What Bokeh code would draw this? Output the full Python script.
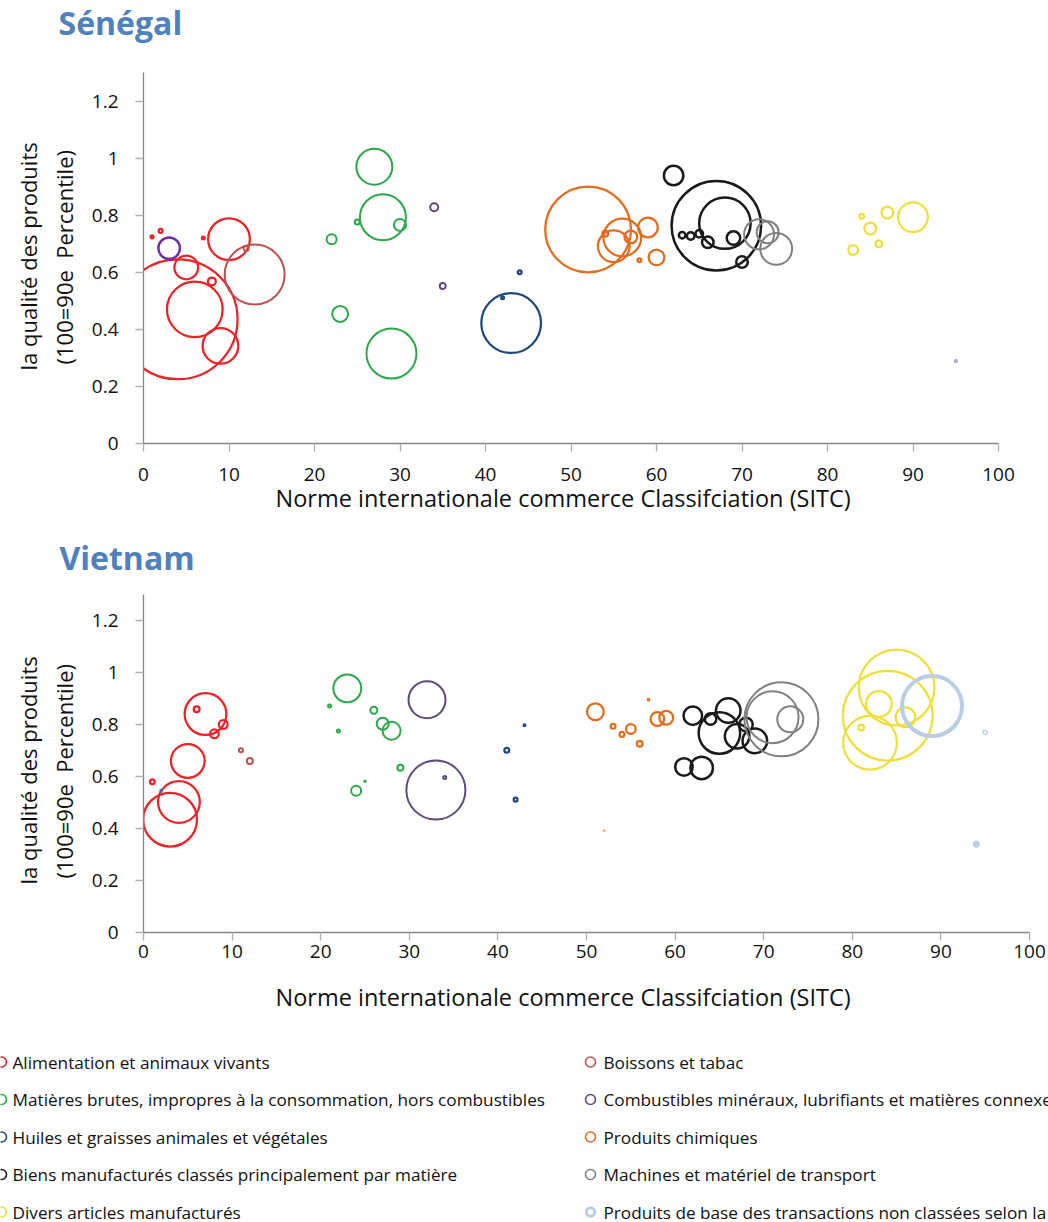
import math
from bokeh.plotting import figure
from bokeh.models import Range1d, ColumnDataSource, FixedTicker, Title
from bokeh.core.properties import value
from bokeh.embed import file_html
from bokeh.resources import INLINE

categories = [
    "Alimentation et animaux vivants",
    "Boissons et tabac",
    "Matières brutes, impropres à la consommation, hors combustibles",
    "Combustibles minéraux, lubrifiants et matières connexes",
    "Huiles et graisses animales et végétales",
    "Produits chimiques",
    "Biens manufacturés classés principalement par matière",
    "Machines et matériel de transport",
    "Divers articles manufacturés",
    "Produits de base des transactions non classées selon la CTCI",
]

x_ticks = [0, 10, 20, 30, 40, 50, 60, 70, 80, 90, 100]
y_ticks = [0, 0.2, 0.4, 0.6, 0.8, 1, 1.2]
y_tick_labels = ["0", "0.2", "0.4", "0.6", "0.8", "1", "1.2"]

x_title = "Norme internationale commerce Classifciation (SITC)"
y_title_1 = "la qualité des produits"
y_title_2 = "(100=90e\u00a0 Percentile)"

# ---------------- Sénégal ----------------
sn_code = [1, 2, 4, 5, 6, 7, 8, 9, 10,
           12, 13,
           22, 23, 25, 27, 28, 29, 30,
           34, 35,
           42, 43, 44,
           52, 54, 55, 56, 57, 58, 59, 60,
           62, 63, 64, 65, 66, 67, 68, 69, 70,
           72, 73, 74,
           83, 84, 85, 86, 87, 90,
           3, 95]
sn_quality = [0.724, 0.745, 0.435, 0.617, 0.470, 0.720, 0.568, 0.342, 0.716,
              0.683, 0.592,
              0.716, 0.454, 0.776, 0.970, 0.793, 0.315, 0.766,
              0.828, 0.552,
              0.511, 0.422, 0.600,
              0.750, 0.735, 0.691, 0.722, 0.724, 0.642, 0.757, 0.652,
              0.939, 0.730, 0.727, 0.735, 0.705, 0.763, 0.772, 0.720, 0.636,
              0.733, 0.740, 0.682,
              0.678, 0.796, 0.753, 0.700, 0.809, 0.793,
              0.684, 0.289]
sn_weight = [1.6, 2.3, 930, 42, 210, 1.6, 6.3, 90, 121,
             3.1, 240,
             9, 20, 3.1, 90, 144, 169, 12.3,
             6.3, 4,
             1.6, 240, 2.3,
             484, 4, 72, 100, 14, 2.3, 30, 20,
             30, 5.1, 6.3, 6.3, 12.3, 529, 182, 16, 12.3,
             64, 36, 72,
             9, 3.1, 12.3, 5.1, 12.3, 64,
             36, 1]
sn_group = [0, 0, 0, 0, 0, 0, 0, 0, 0,
            1, 1,
            2, 2, 2, 2, 2, 2, 2,
            3, 3,
            4, 4, 4,
            5, 5, 5, 5, 5, 5, 5, 5,
            6, 6, 6, 6, 6, 6, 6, 6, 6,
            7, 7, 7,
            8, 8, 8, 8, 8, 8,
            10, 11]

# ---------------- Vietnam ----------------
vn_code = [1, 3, 4, 5, 6, 7, 8, 9,
           11, 12,
           21, 22, 23, 24, 25, 26, 27, 28, 29,
           32, 33, 34,
           41, 42, 43,
           51, 53, 54, 55, 56, 57, 58, 59,
           61, 62, 63, 64, 65, 66, 67, 68, 69,
           71, 72, 73,
           81, 82, 83, 84, 85, 86,
           89, 94, 95,
           2, 52]
vn_quality = [0.580, 0.434, 0.502, 0.660, 0.859, 0.840, 0.764, 0.800,
              0.701, 0.660,
              0.871, 0.775, 0.939, 0.545, 0.582, 0.855, 0.803, 0.776, 0.634,
              0.895, 0.548, 0.596,
              0.701, 0.511, 0.797,
              0.849, 0.793, 0.762, 0.783, 0.726, 0.896, 0.821, 0.826,
              0.637, 0.834, 0.633, 0.821, 0.767, 0.854, 0.755, 0.800, 0.737,
              0.828, 0.820, 0.820,
              0.788, 0.730, 0.879, 0.834, 0.942, 0.828,
              0.871, 0.339, 0.770,
              0.545, 0.392]
vn_weight = [3.1, 196, 121, 81, 4, 121, 7.6, 7.6,
             2.3, 4,
             1.6, 1.6, 56, 9, 0.6, 5.1, 12.3, 25, 4,
             95, 233, 1.6,
             3.1, 2.3, 1,
             22.6, 3.1, 3.1, 9, 4, 0.6, 16, 16,
             25, 27.6, 39, 12.3, 121, 45.6, 45.6, 16, 45.6,
             182, 361, 49,
             4, 196, 49, 529, 380, 30,
             256, 3.1, 1.6,
             1, 0.6]
vn_group = [0, 0, 0, 0, 0, 0, 0, 0,
            1, 1,
            2, 2, 2, 2, 2, 2, 2, 2, 2,
            3, 3, 3,
            4, 4, 4,
            5, 5, 5, 5, 5, 5, 5, 5,
            6, 6, 6, 6, 6, 6, 6, 6, 6,
            7, 7, 7,
            8, 8, 8, 8, 8, 8,
            9, 9, 9,
            13, 12]

# ---------------- styles ----------------
PALETTE = ["#EC2227", "#C0504D", "#2BA84A", "#604A7B", "#1F497D",
           "#E36C1E", "#1A1A1A", "#808080", "#EEE03A", "#B9CDE5",
           "#7030A0", "#A99BCB", "#F4B183", "#5B5FC7"]
LINE_W = [2.25, 2.0, 2.0, 2.0, 2.25, 2.25, 2.5, 2.0, 2.25, 4.0,
          2.5, 1.5, 1.5, 1.5]
FONT = "Open Sans"
TITLE_COLOR = "#4F81BD"
AXIS_COLOR = "#868686"
TEXT_COLOR = "#111111"


def blank_figure(height):
    f = figure(width=1048, height=height, output_backend="svg", toolbar_location=None,
               x_range=Range1d(0, 1048), y_range=Range1d(height, 0), min_border=0)
    f.axis.visible = False
    f.grid.visible = False
    f.outline_line_color = None
    return f


def header(height, text, x, middle):
    h = blank_figure(height)
    h.text([x], [middle], text=[text], text_font=value(FONT), text_font_size="32px",
           text_font_style="bold", text_color=TITLE_COLOR, text_align="left",
           text_baseline="middle")
    return h


def make_chart(code, quality, weight, group, height, border_right, border_top,
               border_bottom, tick_standoff, xlabel_standoff,
               ylabel_offsets, ylabel_standoffs):
    p = figure(width=1048, height=height, output_backend="svg", toolbar_location=None,
               x_range=Range1d(0, 100), y_range=Range1d(0, 1.3),
               min_border_left=143, min_border_right=border_right,
               min_border_top=border_top, min_border_bottom=border_bottom)
    p.outline_line_color = None
    p.grid.visible = False
    p.background_fill_color = "white"
    p.border_fill_color = "white"

    for ax in (p.xaxis[0], p.yaxis[0]):
        ax.axis_line_color = AXIS_COLOR
        ax.axis_line_width = 1.3
        ax.major_tick_line_color = "#B0B0B0"
        ax.major_tick_line_width = 1.3
        ax.major_tick_out = 8
        ax.major_tick_in = 0
        ax.minor_tick_line_color = None
        ax.major_label_text_font = FONT
        ax.major_label_text_font_size = "19px"
        ax.major_label_text_color = TEXT_COLOR
    p.xaxis[0].ticker = FixedTicker(ticks=x_ticks)
    p.xaxis[0].major_label_standoff = tick_standoff
    p.yaxis[0].ticker = FixedTicker(ticks=y_ticks)
    p.yaxis[0].major_label_overrides = {t: s for t, s in zip(y_ticks, y_tick_labels)}
    p.yaxis[0].major_label_standoff = 17

    # bubbles, drawn series by series so later series sit on top
    for g in range(len(PALETTE)):
        idx = [i for i in range(len(code)) if group[i] == g]
        if not idx:
            continue
        lw = LINE_W[g]
        src = ColumnDataSource(dict(
            x=[code[i] for i in idx],
            y=[quality[i] for i in idx],
            d=[max(4.0 * math.sqrt(weight[i]) - lw, 1.5) for i in idx],
        ))
        p.scatter("x", "y", size="d", source=src, marker="circle",
                  fill_color=None, line_color=PALETTE[g], line_width=lw)

    p.add_layout(Title(text=x_title, align="left", offset=132, text_font=FONT,
                       text_font_size="23.5px", text_font_style="normal",
                       text_color=TEXT_COLOR, standoff=xlabel_standoff), "below")
    p.add_layout(Title(text=y_title_2, align="left", offset=ylabel_offsets[1],
                       text_font=FONT, text_font_size="22px", text_font_style="normal",
                       text_color=TEXT_COLOR, standoff=ylabel_standoffs[1]), "left")
    p.add_layout(Title(text=y_title_1, align="left", offset=ylabel_offsets[0],
                       text_font=FONT, text_font_size="22px", text_font_style="normal",
                       text_color=TEXT_COLOR, standoff=ylabel_standoffs[0]), "left")
    return p


h1 = header(60, "Sénégal", 58, 22)
p1 = make_chart(sn_code, sn_quality, sn_weight, sn_group, 470, 50, 12, 87,
                16, -7, (73, 79), (-12, 20))
h2 = header(50, "Vietnam", 59, 27)
p2 = make_chart(vn_code, vn_quality, vn_weight, vn_group, 450, 19, 14, 97,
                4, 36, (48, 54), (-12, 20))

# ---------------- legend ----------------
leg = blank_figure(192)
col_marker = [1, 590]
col_text = [12, 603]
row_y = [31.5, 69, 106.5, 144, 181.5]
for i, name in enumerate(categories):
    c, r = i % 2, i // 2
    lw = 3.0 if i == 9 else 1.6
    leg.scatter([col_marker[c]], [row_y[r]], size=10 - (1.5 if i == 9 else 0),
                marker="circle", fill_color=None, line_color=PALETTE[i], line_width=lw)
    leg.text([col_text[c]], [row_y[r]], text=[name], text_font=value(FONT),
             text_font_size="17.2px", text_color=TEXT_COLOR, text_align="left",
             text_baseline="middle")

open("out.html", "w").write(file_html([h1, p1, h2, p2, leg], INLINE))
